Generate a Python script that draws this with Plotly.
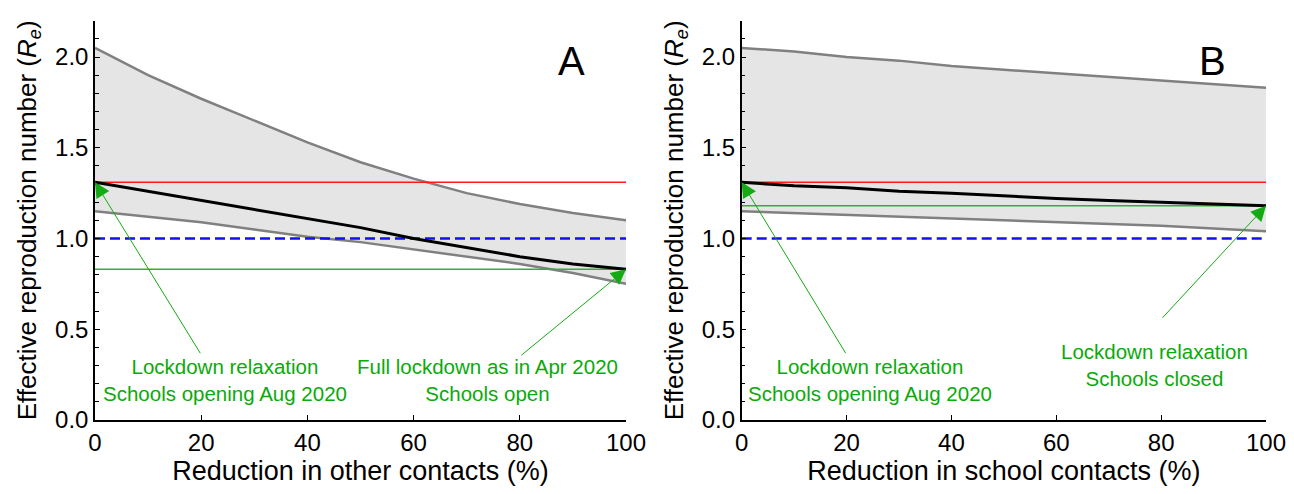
import plotly.graph_objects as go

# ---- data ----
x_pct = [0, 10, 20, 30, 40, 50, 60, 70, 80, 90, 100]

a_upper = [2.05, 1.90, 1.77, 1.65, 1.53, 1.42, 1.33, 1.25, 1.19, 1.14, 1.10]
a_median = [1.31, 1.26, 1.21, 1.16, 1.11, 1.06, 1.00, 0.95, 0.90, 0.86, 0.83]
a_lower = [1.15, 1.12, 1.09, 1.05, 1.01, 0.98, 0.94, 0.90, 0.86, 0.81, 0.75]

b_upper = [2.05, 2.03, 2.00, 1.98, 1.95, 1.93, 1.91, 1.89, 1.87, 1.85, 1.83]
b_median = [1.31, 1.29, 1.28, 1.26, 1.25, 1.235, 1.22, 1.21, 1.20, 1.19, 1.18]
b_lower = [1.15, 1.14, 1.13, 1.12, 1.11, 1.10, 1.09, 1.08, 1.07, 1.055, 1.04]

ref_current = 1.31          # red line
threshold = 1.0             # blue dashed
a_target = 0.83             # green line A
b_target = 1.18             # green line B

x_titles = ["Reduction in other contacts (%)", "Reduction in school contacts (%)"]
y_title = "Effective reproduction number (<i>R</i><sub><i>e</i></sub>)"
panel_labels = ["A", "B"]

notes_a = [
    dict(text="Lockdown relaxation<br>Schools opening Aug 2020", tx=24.5, ty=0.22,
         head=(0, 1.31), tail=(20, 0.36)),
    dict(text="Full lockdown as in Apr 2020<br>Schools open", tx=74, ty=0.22,
         head=(100, 0.83), tail=(80, 0.35)),
]
notes_b = [
    dict(text="Lockdown relaxation<br>Schools opening Aug 2020", tx=24.5, ty=0.22,
         head=(0, 1.31), tail=(20, 0.36)),
    dict(text="Lockdown relaxation<br>Schools closed", tx=78.8, ty=0.305,
         head=(100, 1.18), tail=(80, 0.555)),
]

FONT = "Liberation Sans, Arial, sans-serif"
GREEN_TXT = "#0aaa0a"
GREEN_LINE = "#2db42d"

fig = go.Figure()

panels = [
    ("x", "y", a_upper, a_median, a_lower, a_target, notes_a),
    ("x2", "y2", b_upper, b_median, b_lower, b_target, notes_b),
]

for i, (xr, yr, up, med, lo, tgt, notes) in enumerate(panels):
    # band
    fig.add_trace(go.Scatter(x=x_pct, y=lo, xaxis=xr, yaxis=yr, mode="lines",
                             line=dict(color="#808080", width=2.5), showlegend=False,
                             hoverinfo="skip"))
    fig.add_trace(go.Scatter(x=x_pct, y=up, xaxis=xr, yaxis=yr, mode="lines",
                             fill="tonexty", fillcolor="#e5e5e5",
                             line=dict(color="#808080", width=2.5), showlegend=False,
                             hoverinfo="skip"))
    # horizontal references
    fig.add_trace(go.Scatter(x=[0, 100], y=[ref_current, ref_current], xaxis=xr, yaxis=yr,
                             mode="lines", line=dict(color="#ff1a1a", width=1.3),
                             showlegend=False))
    fig.add_trace(go.Scatter(x=[0, 100], y=[threshold, threshold], xaxis=xr, yaxis=yr,
                             mode="lines", line=dict(color="#1111ee", width=2.5, dash="10px,5px"),
                             showlegend=False))
    fig.add_trace(go.Scatter(x=[0, 100], y=[tgt, tgt], xaxis=xr, yaxis=yr,
                             mode="lines", line=dict(color=GREEN_LINE, width=1.5),
                             showlegend=False))
    # median
    fig.add_trace(go.Scatter(x=x_pct, y=med, xaxis=xr, yaxis=yr, mode="lines",
                             line=dict(color="black", width=3), showlegend=False))
    # annotations
    for n in notes:
        fig.add_annotation(x=n["head"][0], y=n["head"][1], ax=n["tail"][0], ay=n["tail"][1],
                           xref=xr, yref=yr, axref=xr, ayref=yr, text="",
                           showarrow=True, arrowhead=2, arrowsize=3, arrowwidth=1,
                           arrowcolor="#14aa14", standoff=0, startstandoff=0)
        fig.add_annotation(x=n["tx"], y=n["ty"], xref=xr, yref=yr, text=n["text"],
                           showarrow=False, font=dict(family=FONT, size=20.5, color=GREEN_TXT),
                           align="center")
    fig.add_annotation(x=89.8, y=1.98, xref=xr, yref=yr, text=panel_labels[i],
                       showarrow=False, font=dict(family=FONT, size=40, color="black"))

axis_common = dict(showline=True, linecolor="black", linewidth=1.5, ticks="inside",
                   ticklen=5, tickcolor="black", showgrid=False, zeroline=False,
                   automargin=False,
                   tickfont=dict(family=FONT, size=24, color="black"), mirror=False)

# the page body adds an 8px offset, so the figure is sized to the remaining area
W, H, OFF = 1286, 478, 8
xdoms = [[(95 - OFF) / W, (626 - OFF) / W], [(741.7 - OFF) / W, (1266 - OFF) / W]]
ydom = [(H - (420 - OFF)) / H, (H - (20.7 - OFF)) / H]

layout = dict(width=W, height=H, margin=dict(l=0, r=0, t=0, b=0),
              plot_bgcolor="white", paper_bgcolor="white", showlegend=False,
              font=dict(family=FONT, color="black"))
for i in range(2):
    sx = "" if i == 0 else "2"
    layout["xaxis" + sx] = dict(axis_common, domain=xdoms[i], range=[0, 100],
                                tickvals=[0, 20, 40, 60, 80, 100], anchor="y" + sx,
                                ticklabeloverflow="allow",
                                title=dict(text=x_titles[i], font=dict(family=FONT, size=27),
                                           standoff=10))
    layout["yaxis" + sx] = dict(axis_common, domain=ydom, range=[0, 2.2],
                                tickvals=[0, 0.5, 1.0, 1.5, 2.0], tickformat=".1f",
                                anchor="x" + sx,
                                minor=dict(ticks="inside", ticklen=4, tickcolor="black",
                                           dtick=0.1, tick0=0),
                                title=dict(text=y_title, font=dict(family=FONT, size=26),
                                           standoff=11))
fig.update_layout(**layout)

fig.write_html("out.html", default_width=f"{W}px", default_height=f"{H}px")
